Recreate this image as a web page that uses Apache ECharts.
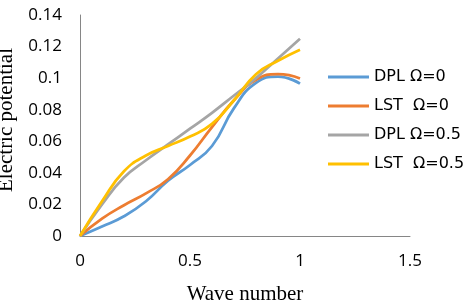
<!DOCTYPE html>
<html><head><meta charset="utf-8">
<script src="https://cdn.jsdelivr.net/npm/echarts@6/dist/echarts.min.js"></script>
<style>html,body{margin:0;padding:0;background:#fff}#c{width:464px;height:307px}</style>
</head><body><div id="c"></div>
<script>
var waveNumber = [0, 0.1, 0.2, 0.3, 0.4, 0.5, 0.6, 0.7, 0.8, 0.9, 1.0];
var dplOmega0   = [0, 0.006, 0.0125, 0.022, 0.035, 0.045, 0.057, 0.081, 0.097, 0.101, 0.0965];
var lstOmega0   = [0, 0.011, 0.0195, 0.027, 0.036, 0.051, 0.069, 0.086, 0.099, 0.1025, 0.0998];
var dplOmega05  = [0, 0.020, 0.037, 0.048, 0.058, 0.068, 0.078, 0.089, 0.100, 0.1125, 0.125];
var lstOmega05  = [0, 0.022, 0.041, 0.051, 0.057, 0.063, 0.071, 0.086, 0.1025, 0.111, 0.118];
var seriesNames = ['DPL \u03A9=0', 'LST  \u03A9=0', 'DPL \u03A9=0.5', 'LST  \u03A9=0.5'];
var seriesColors = ['#5B9BD5', '#ED7D31', '#A5A5A5', '#FFC000'];
var allValues = [dplOmega0, lstOmega0, dplOmega05, lstOmega05];

function pairs(ys){ return waveNumber.map(function(x,i){ return [x, ys[i]]; }); }

var chart = echarts.init(document.getElementById('c'));
chart.setOption({
  animation: false,
  grid: {left: 80, right: 54, top: 15, bottom: 71, containLabel: false, outerBoundsMode: 'none'},
  legend: {
    orient: 'vertical', left: 328, top: 69, padding: 0,
    itemWidth: 41, itemHeight: 3, itemGap: 13, icon: 'rect',
    textStyle: {fontFamily: 'DejaVu Sans', fontSize: 16, color: '#000', lineHeight: 16},
    data: seriesNames
  },
  xAxis: {
    type: 'value', min: 0, max: 1.5, interval: 0.5,
    name: 'Wave number', nameLocation: 'middle', nameGap: 48,
    nameTextStyle: {fontFamily: 'Liberation Serif', fontSize: 21, color: '#000'},
    axisLine: {lineStyle: {color: '#868686', width: 1}},
    axisTick: {show: false}, splitLine: {show: false},
    axisLabel: {fontFamily: 'Open Sans', fontSize: 17, color: '#000', margin: 17}
  },
  yAxis: {
    type: 'value', min: 0, max: 0.14, interval: 0.02,
    name: 'Electric potential', nameLocation: 'middle', nameGap: 53,
    nameTextStyle: {fontFamily: 'Liberation Serif', fontSize: 21, color: '#000', padding: [0,0,0,11]},
    axisLine: {show: true, lineStyle: {color: '#868686', width: 1}},
    axisTick: {show: false}, splitLine: {show: false},
    axisLabel: {fontFamily: 'Open Sans', fontSize: 17, color: '#000', margin: 18}
  },
  series: allValues.map(function(v, i){
    return {
      name: seriesNames[i], type: 'line', smooth: 0.5, showSymbol: false,
      data: pairs(v), color: seriesColors[i],
      lineStyle: {width: 2.75, color: seriesColors[i]}
    };
  })
});
</script></body></html>
